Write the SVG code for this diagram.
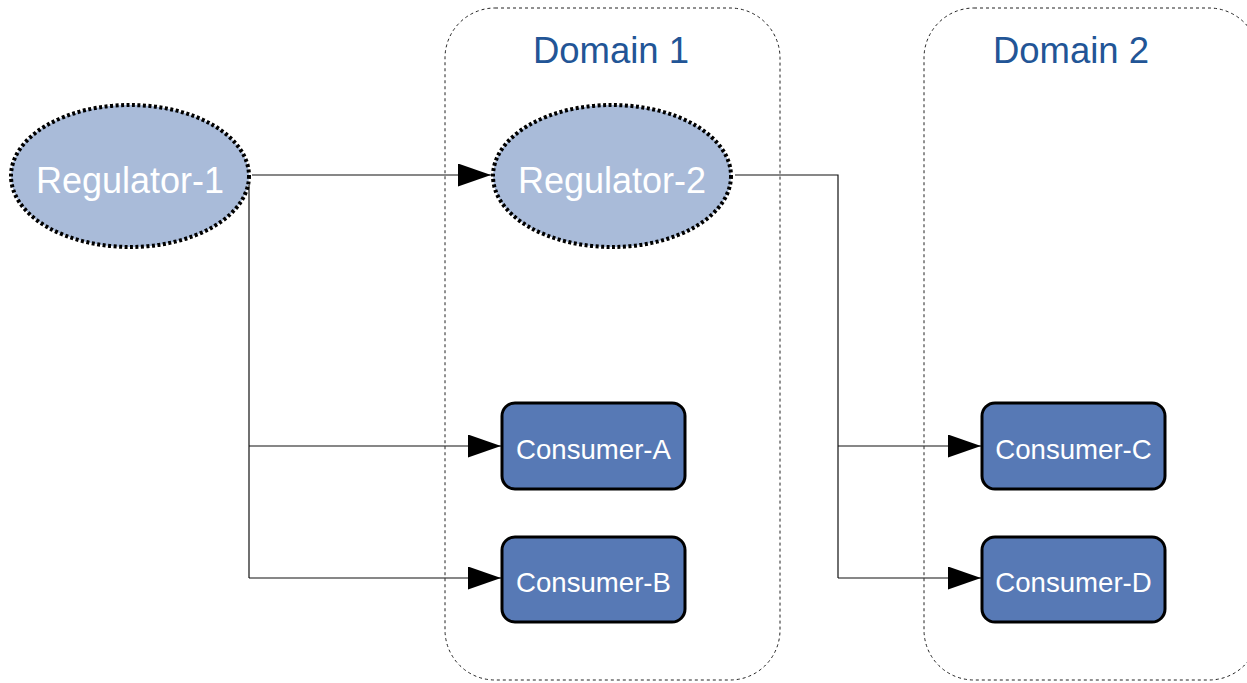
<svg xmlns="http://www.w3.org/2000/svg" width="1247" height="683" viewBox="0 0 1247 683">
<style>
  .domain { fill: none; stroke: #222; stroke-width: 1; stroke-dasharray: 3 3; }
  .dtitle { font-family: "Liberation Sans", Arial, sans-serif; font-size: 36.5px; fill: #225596; text-anchor: middle; }
  .reg { fill: #a9bbd9; stroke: #000; stroke-width: 4; stroke-dasharray: 3 2.5; }
  .regt { font-family: "Liberation Sans", Arial, sans-serif; font-size: 36px; fill: #fff; text-anchor: middle; }
  .con { fill: #5779b5; stroke: #000; stroke-width: 3; }
  .cont { font-family: "Liberation Sans", Arial, sans-serif; font-size: 27.6px; fill: #fff; text-anchor: middle; }
  .edge { fill: none; stroke: #111; stroke-width: 1.2; }
</style>
<defs>
  <marker id="arrow" markerWidth="34" markerHeight="24" refX="33" refY="11.5" orient="auto" markerUnits="userSpaceOnUse">
    <path d="M0,0 L33,11.5 L0,23 Z" fill="#000"/>
  </marker>
</defs>
<rect width="1247" height="683" fill="#fff"/>
<g id="domain1">
  <rect class="domain" x="445" y="8" width="335" height="672" rx="50" ry="50"/>
  <text class="dtitle" x="611" y="63">Domain 1</text>
</g>
<g id="domain2">
  <rect class="domain" x="924" y="8" width="335" height="672" rx="50" ry="50"/>
  <text class="dtitle" x="1071" y="63">Domain 2</text>
</g>
<g id="connectors">
  <path class="edge" d="M252,175 H491" marker-end="url(#arrow)"/>
  <path class="edge" d="M249,185 V578"/>
  <path class="edge" d="M249,446 H501" marker-end="url(#arrow)"/>
  <path class="edge" d="M249,578 H501" marker-end="url(#arrow)"/>
  <path class="edge" d="M735,175 H838 V578"/>
  <path class="edge" d="M838,446 H981" marker-end="url(#arrow)"/>
  <path class="edge" d="M838,578 H981" marker-end="url(#arrow)"/>
</g>
<g id="regulator1">
  <ellipse class="reg" cx="130" cy="176" rx="119" ry="71"/>
  <text class="regt" x="130" y="193">Regulator-1</text>
</g>
<g id="regulator2">
  <ellipse class="reg" cx="612" cy="176" rx="119" ry="71"/>
  <text class="regt" x="612" y="193">Regulator-2</text>
</g>
<g id="consumerA">
  <rect class="con" x="502" y="403" width="183" height="86" rx="13" ry="13"/>
  <text class="cont" x="593.5" y="459">Consumer-A</text>
</g>
<g id="consumerB">
  <rect class="con" x="502" y="537" width="183" height="85" rx="13" ry="13"/>
  <text class="cont" x="593.5" y="592">Consumer-B</text>
</g>
<g id="consumerC">
  <rect class="con" x="982" y="403" width="183" height="86" rx="13" ry="13"/>
  <text class="cont" x="1073.5" y="459">Consumer-C</text>
</g>
<g id="consumerD">
  <rect class="con" x="982" y="537" width="183" height="85" rx="13" ry="13"/>
  <text class="cont" x="1073.5" y="592">Consumer-D</text>
</g>
</svg>
